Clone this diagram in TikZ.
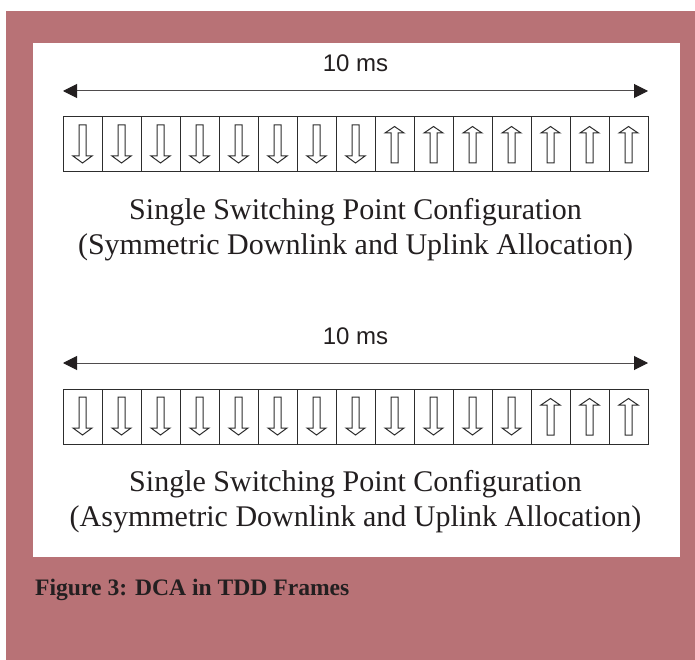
\documentclass[tikz,border=0pt]{standalone}
\usepackage{fontspec}
\setmainfont{Liberation Serif}
\newfontfamily\arialf{Liberation Sans}
\usetikzlibrary{arrows.meta}
\definecolor{maroonbg}{RGB}{184,114,118}
\definecolor{inkc}{RGB}{35,31,32}
\definecolor{boxline}{RGB}{45,45,45}
\tikzset{
  slot/.style={draw=boxline, line width=1pt, minimum width=39pt, minimum height=55pt, inner sep=0pt, outer sep=0pt},
  blockarrow/.style={draw=boxline, line width=1pt, fill=white, line join=miter},
  span/.style={draw=inkc!80, line width=1pt, {Triangle[length=14pt,width=14pt,color=inkc]}-{Triangle[length=14pt,width=14pt,color=inkc]}},
  mslabel/.style={font=\arialf\fontsize{24}{28}\selectfont, text=inkc, anchor=base, inner sep=0pt},
  cfg/.style={font=\fontsize{30}{35}\selectfont, text=inkc, anchor=base, inner sep=0pt},
  figcaption/.style={font=\bfseries\fontsize{23.6}{28}\selectfont, text=inkc, anchor=base west, inner sep=0pt},
  pics/dnarrow/.style={code={\draw[blockarrow] (-3.5,-19.5) -- (3.5,-19.5) -- (3.5,11.5) -- (9.5,11.5) -- (0,18.5) -- (-9.5,11.5) -- (-3.5,11.5) -- cycle;}},
  pics/uparrow/.style={code={\draw[blockarrow] (-3.5,18.5) -- (3.5,18.5) -- (3.5,-11.5) -- (9.5,-11.5) -- (0,-18) -- (-9.5,-11.5) -- (-3.5,-11.5) -- cycle;}}
}
\begin{document}
\begin{tikzpicture}[x=1pt,y=-1pt]
  \useasboundingbox (0,0) rectangle (695,660);
  \fill[white] (0,0) rectangle (695,660);
  \fill[maroonbg] (6,11) rectangle (695,660);
  \fill[white] (33,43) rectangle (680,557);

  % first frame
  \node[mslabel] (ms1) at (355.5,72) {10 ms};
  \coordinate (a1l) at (63,91);
  \coordinate (a1r) at (648,91);
  \draw[span] (a1l) -- (a1r);
  \foreach \i in {1,...,15} {
    \node[slot] (ra\i) at ({43.5+39*\i},144.5) {};
  }
  \foreach \i in {1,...,8} { \pic at (ra\i.center) {dnarrow}; }
  \foreach \i in {9,...,15} { \pic at (ra\i.center) {uparrow}; }
  \node[cfg] (t1a) at (355.5,219) {Single Switching Point Configuration};
  \node[cfg] (t1b) at (355.5,254) {(Symmetric Downlink and Uplink Allocation)};

  % second frame
  \node[mslabel] (ms2) at (355.5,344) {10 ms};
  \coordinate (a2l) at (63,363);
  \coordinate (a2r) at (648,363);
  \draw[span] (a2l) -- (a2r);
  \foreach \i in {1,...,15} {
    \node[slot] (rb\i) at ({43.5+39*\i},416.5) {};
  }
  \foreach \i in {1,...,12} { \pic at (rb\i.center) {dnarrow}; }
  \foreach \i in {13,...,15} { \pic at (rb\i.center) {uparrow}; }
  \node[cfg] (t2a) at (355.5,491) {Single Switching Point Configuration};
  \node[cfg] (t2b) at (355.5,526) {(Asymmetric Downlink and Uplink Allocation)};

  \node[figcaption] (cap) at (35,595) {Figure 3: DCA in TDD Frames};
\end{tikzpicture}
\end{document}
